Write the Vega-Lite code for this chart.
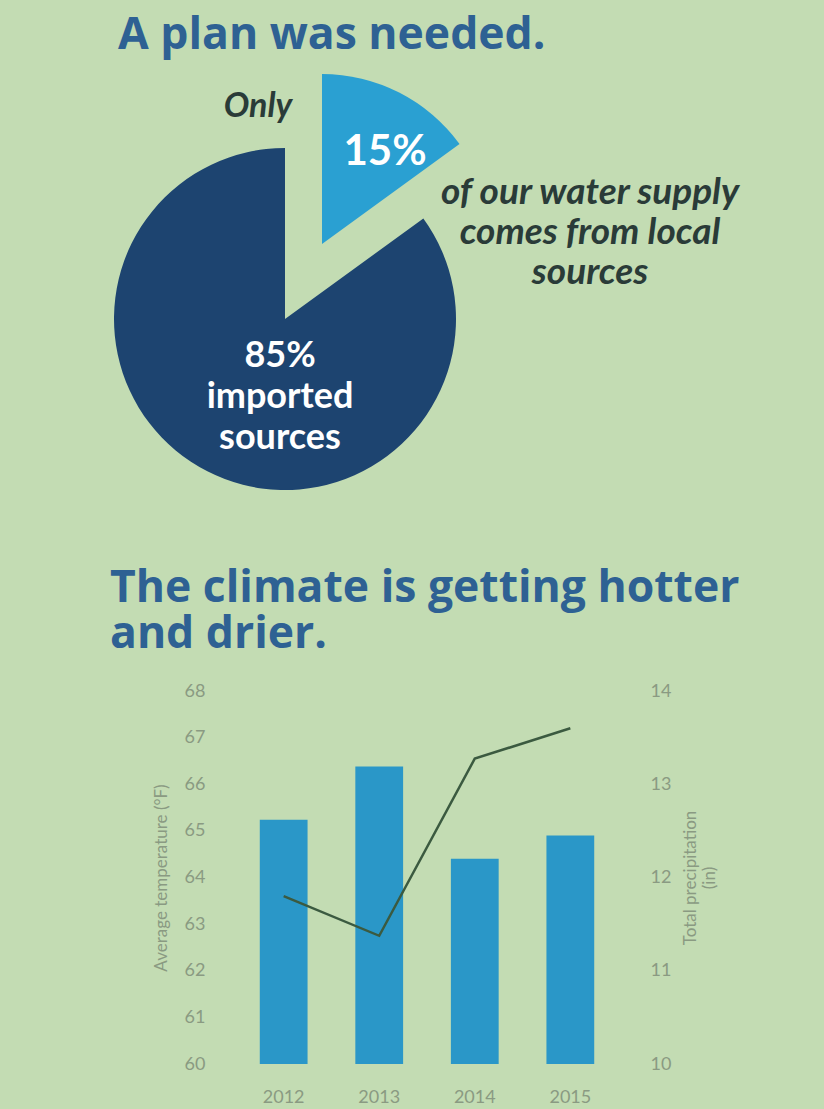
{
  "$schema": "https://vega.github.io/schema/vega-lite/v6.json",
  "background": "#c3dcb3",
  "padding": {"left": 110, "top": 12, "right": 84, "bottom": 4},
  "autosize": {"type": "pad"},
  "config": {"view": {"stroke": null}, "font": "Lato"},
  "bounds": "flush",
  "spacing": 299,
  "vconcat": [
    {
      "width": 146,
      "height": 146,
      "title": {"text": "A plan was needed.", "anchor": "start", "frame": "group", "font": "Open Sans", "fontSize": 44.5, "fontWeight": "bold", "color": "#2e6193", "baseline": "alphabetic", "offset": -19, "dx": -94},
      "data": {"values": [
        {"source": "local", "pct": 15, "label": "15%", "pre": "Only", "post": "of our water supply\ncomes from local\nsources"},
        {"source": "imported", "pct": 85, "label": "85%\nimported\nsources", "pre": "", "post": ""}
      ]},
      "transform": [{"stack": "pct", "groupby": [], "sort": [{"field": "source", "order": "descending"}], "as": ["start", "end"]}],
      "layer": [
        {
          "transform": [{"filter": "datum.source === 'imported'"}],
          "mark": {"type": "arc", "radius": 171, "color": "#1d4470"},
          "encoding": {
            "theta": {"field": "start", "type": "quantitative", "scale": {"domain": [0, 100]}, "stack": null},
            "theta2": {"field": "end"}
          }
        },
        {
          "transform": [{"filter": "datum.source === 'local'"}],
          "mark": {"type": "arc", "radius": 170, "xOffset": 37, "yOffset": -75, "color": "#2aa0d2"},
          "encoding": {
            "theta": {"field": "start", "type": "quantitative", "scale": {"domain": [0, 100]}, "stack": null},
            "theta2": {"field": "end"}
          }
        },
        {
          "transform": [{"filter": "datum.source === 'local'"}],
          "mark": {"type": "text", "radius": 92, "xOffset": 37, "yOffset": -75, "dx": 63, "fontSize": 42, "fontWeight": "bold", "color": "white"},
          "encoding": {
            "theta": {"field": "start", "type": "quantitative", "scale": {"domain": [0, 100]}, "stack": null},
            "text": {"field": "label"}
          }
        },
        {
          "transform": [{"filter": "datum.source === 'imported'"}],
          "mark": {"type": "text", "radius": 0, "dx": -5, "dy": 37, "fontSize": 36, "fontWeight": "bold", "color": "white", "lineBreak": "\n", "lineHeight": 41},
          "encoding": {
            "theta": {"field": "start", "type": "quantitative", "scale": {"domain": [0, 100]}, "stack": null},
            "text": {"field": "label"}
          }
        },
        {
          "transform": [{"filter": "datum.source === 'local'"}],
          "mark": {"type": "text", "radius": 212, "dx": -27, "fontSize": 34, "fontWeight": "bold", "fontStyle": "italic", "color": "#2a3b38"},
          "encoding": {
            "theta": {"field": "start", "type": "quantitative", "scale": {"domain": [0, 100]}, "stack": null},
            "text": {"field": "pre"}
          }
        },
        {
          "transform": [{"filter": "datum.source === 'local'"}],
          "mark": {"type": "text", "radius": 126, "dx": 305, "fontSize": 37, "fontWeight": "bold", "fontStyle": "italic", "color": "#2a3b38", "lineBreak": "\n", "lineHeight": 40},
          "encoding": {
            "theta": {"field": "start", "type": "quantitative", "scale": {"domain": [0, 100]}, "stack": null},
            "text": {"field": "post"}
          }
        }
      ]
    },
    {
      "width": 430,
      "height": 373,
      "title": {"text": ["The climate is getting hotter", "and drier."], "anchor": "start", "frame": "group", "font": "Open Sans", "fontSize": 44.5, "fontWeight": "bold", "color": "#2e6193", "lineHeight": 46, "baseline": "alphabetic", "offset": -10, "dx": -102},
      "data": {"values": [
        {"year": "2012", "temperature": 63.6, "precipitation": 12.62},
        {"year": "2013", "temperature": 62.75, "precipitation": 13.19},
        {"year": "2014", "temperature": 66.55, "precipitation": 12.2},
        {"year": "2015", "temperature": 67.2, "precipitation": 12.45}
      ]},
      "encoding": {
        "x": {"field": "year", "type": "ordinal", "scale": {"paddingInner": 0.5, "paddingOuter": 0.5},
          "axis": {"title": null, "labelAngle": 0, "ticks": false, "domain": false, "labelPadding": 24, "labelFontSize": 18, "labelColor": "#8a9a82"}}
      },
      "layer": [
        {
          "mark": {"type": "bar", "color": "#2a97c8"},
          "encoding": {
            "y": {"field": "precipitation", "type": "quantitative", "scale": {"domain": [10, 14], "zero": false},
              "axis": {"orient": "right", "title": ["Total precipitation", "(in)"], "titleAngle": 270, "values": [10, 11, 12, 13, 14], "grid": false, "ticks": false, "domain": false, "labelPadding": 8, "labelFontSize": 18, "labelColor": "#8a9a82", "titleColor": "#8a9a82", "titleFontSize": 17, "titleFontWeight": "normal", "titlePadding": 10}},
            "y2": {"datum": 10}
          }
        },
        {
          "mark": {"type": "line", "color": "#3b5a40", "strokeWidth": 2.5},
          "encoding": {
            "y": {"field": "temperature", "type": "quantitative", "scale": {"domain": [60, 68], "zero": false},
              "axis": {"orient": "left", "title": "Average temperature (°F)", "values": [60, 61, 62, 63, 64, 65, 66, 67, 68], "grid": false, "ticks": false, "domain": false, "labelPadding": 7, "labelFontSize": 18, "labelColor": "#8a9a82", "titleColor": "#8a9a82", "titleFontSize": 17, "titleFontWeight": "normal", "titlePadding": 14}}
          }
        }
      ],
      "resolve": {"scale": {"y": "independent"}}
    }
  ]
}
